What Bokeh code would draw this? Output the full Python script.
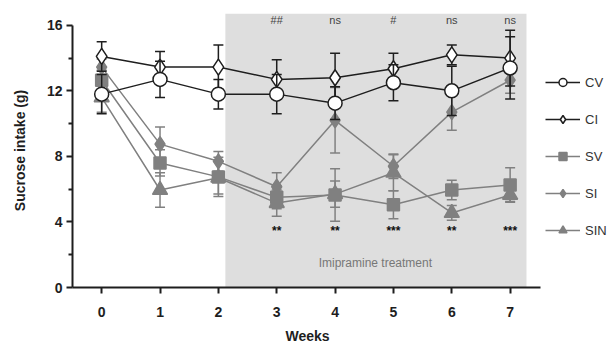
from bokeh.plotting import figure
from bokeh.models import Range1d, BoxAnnotation, FixedTicker, Legend, LegendItem, ColumnDataSource, Title
from bokeh.core.properties import value
from bokeh.embed import file_html
from bokeh.resources import INLINE

weeks = [0, 1, 2, 3, 4, 5, 6, 7]
CV = [11.8, 12.7, 11.8, 11.8, 11.25, 12.5, 12.0, 13.4]
CV_err = [1.2, 1.1, 0.9, 1.2, 1.0, 1.1, 1.5, 1.9]
CI = [14.1, 13.45, 13.45, 12.7, 12.8, 13.35, 14.2, 14.0]
CI_err = [0.9, 0.95, 1.35, 1.2, 1.5, 0.95, 0.6, 1.7]
SV = [12.65, 7.6, 6.75, 5.5, 5.65, 5.05, 5.95, 6.25]
SV_err = [0.6, 0.8, 1.2, 0.7, 1.6, 0.85, 0.6, 1.05]
SI = [13.45, 8.75, 7.7, 6.15, 10.2, 7.4, 10.7, 12.65]
SI_err = [0.5, 1.05, 0.6, 0.85, 2.0, 0.75, 1.1, 0.8]
SIN = [11.6, 5.95, 6.7, 5.15, 5.7, 7.0, 4.55, 5.65]
SIN_err = [0.9, 1.05, 1.0, 0.8, 0.8, 1.1, 0.45, 0.4]

ann_weeks = [3, 4, 5, 6, 7]
top_labels = ["##", "ns", "#", "ns", "ns"]
bottom_labels = ["**", "**", "***", "**", "***"]
treatment_start, treatment_end = 2.12, 7.28
treatment_label = "Imipramine treatment"
x_axis_end = 7.52

FONT = "Liberation Sans"
BLACK = "#1e1e1e"
GRAY = "#808080"

p = figure(width=610, height=349, output_backend="svg", toolbar_location=None,
           x_range=Range1d(-0.5, 8.72), y_range=Range1d(0, 16.72),
           min_border_left=72, min_border_top=13, min_border_bottom=0, min_border_right=0)
p.outline_line_color = None
p.grid.visible = False
p.background_fill_color = "white"

box = BoxAnnotation(left=treatment_start, right=treatment_end, bottom=0, fill_color="#dedede",
                    fill_alpha=1.0, line_color=None, level="underlay")
p.add_layout(box)

def series(vals, errs, color, marker, fill, size):
    lower = [v - e for v, e in zip(vals, errs)]
    upper = [v + e for v, e in zip(vals, errs)]
    src = ColumnDataSource(dict(x=weeks, y=vals, lo=lower, hi=upper))
    p.segment(x0="x", y0="lo", x1="x", y1="hi", source=src, line_color=color, line_width=1.5)
    p.scatter("x", "lo", source=src, marker="dash", size=10, line_color=color, line_width=1.5)
    p.scatter("x", "hi", source=src, marker="dash", size=10, line_color=color, line_width=1.5)
    ln = p.line("x", "y", source=src, line_color=color, line_width=1.5)
    sc = p.scatter("x", "y", source=src, marker=marker, size=size, fill_color=fill,
                   line_color=color, line_width=1.5)
    return [ln, sc]

r_sin = series(SIN, SIN_err, GRAY, "triangle", GRAY, 15)
r_si = series(SI, SI_err, GRAY, "diamond", GRAY, 15)
r_sv = series(SV, SV_err, GRAY, "square", GRAY, 12)
r_ci = series(CI, CI_err, BLACK, "diamond", "white", 16)
r_cv = series(CV, CV_err, BLACK, "circle", "white", 14)

p.text(x=ann_weeks, y=[16.3] * 5, text=top_labels, text_align="center", text_baseline="middle",
       text_font=value(FONT), text_font_size="11px", text_color="#444444")
p.text(x=ann_weeks, y=[3.45] * 5, text=bottom_labels, text_align="center", text_baseline="middle",
       text_font=value(FONT), text_font_size="12px", text_font_style="bold", text_color="#111111")
p.text(x=[4.69], y=[1.5], text=[treatment_label], text_align="center", text_baseline="middle",
       text_font=value(FONT), text_font_size="12px", text_color="#777777")

for ax in [p.xaxis[0], p.yaxis[0]]:
    ax.axis_line_width = 2
    ax.axis_line_color = BLACK
    ax.major_tick_line_color = BLACK
    ax.major_tick_line_width = 2
    ax.minor_tick_line_color = BLACK
    ax.minor_tick_line_width = 2
    ax.major_tick_in = 0
    ax.major_tick_out = 6
    ax.minor_tick_in = 0
    ax.minor_tick_out = 4
    ax.major_label_text_font = FONT
    ax.major_label_text_font_size = "14px"
    ax.major_label_text_font_style = "bold"
    ax.major_label_text_color = BLACK
    ax.axis_label_text_font = FONT
    ax.axis_label_text_font_size = "14px"
    ax.axis_label_text_font_style = "bold"
    ax.axis_label_text_color = BLACK

p.yaxis.ticker = FixedTicker(ticks=[0, 4, 8, 12, 16], minor_ticks=[2, 6, 10, 14])
p.yaxis.bounds = (0, 16)
p.yaxis.axis_label = "Sucrose intake (g)"
p.yaxis.major_label_standoff = 4
p.yaxis.axis_label_standoff = 16
p.xaxis.ticker = FixedTicker(ticks=weeks, minor_ticks=[])
p.xaxis.bounds = (-0.5, x_axis_end)
p.xaxis.major_label_standoff = 13

weeks_title = Title(text="Weeks", align="left", offset=213, standoff=12, vertical_align="bottom",
                    text_font=FONT, text_font_size="14px", text_font_style="bold",
                    text_color=BLACK, text_line_height=1.0)
p.add_layout(weeks_title, "below")

legend = Legend(items=[
    LegendItem(label="CV", renderers=r_cv),
    LegendItem(label="CI", renderers=r_ci),
    LegendItem(label="SV", renderers=r_sv),
    LegendItem(label="SI", renderers=r_si),
    LegendItem(label="SIN", renderers=r_sin),
], location=(473, 47), orientation="vertical")
legend.border_line_color = None
legend.background_fill_alpha = 0
legend.margin = 0
legend.padding = 0
legend.glyph_width = 35
legend.glyph_height = 20
legend.label_height = 20
legend.spacing = 17
legend.label_standoff = 5
legend.label_text_font = FONT
legend.label_text_font_size = "13px"
legend.label_text_color = "#333333"
p.add_layout(legend)

open("out.html", "w").write(file_html(p, INLINE))
